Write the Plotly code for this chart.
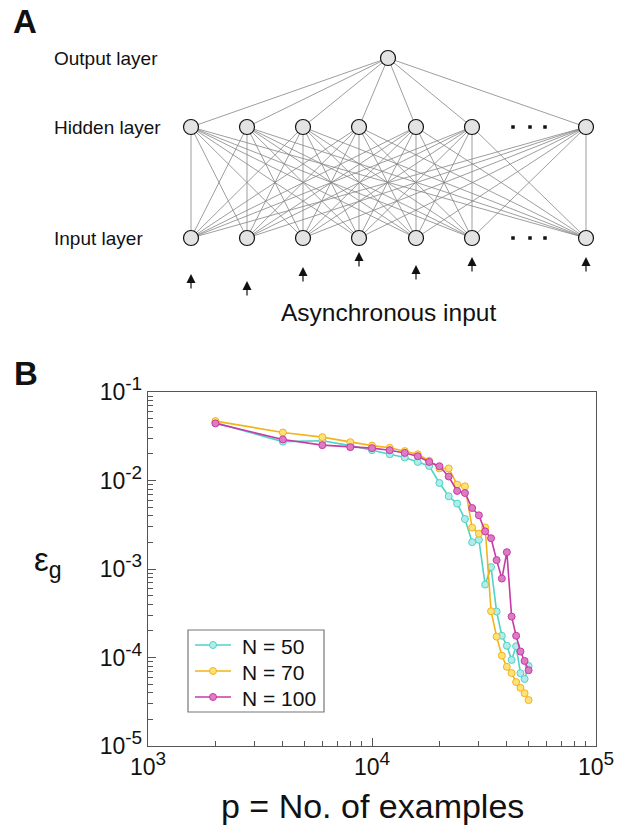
import plotly.graph_objects as go

# ---------------- Panel B data ----------------
p_examples = [2000, 4000, 6000, 8000, 10000, 12000, 14000, 16000, 18000, 20000,
              22000, 24000, 26000, 28000, 30000, 32000, 34000, 36000, 38000, 40000,
              42000, 44000, 46000, 48000, 50000]

eg_n50 = [0.0449, 0.0275, 0.0281, 0.0248, 0.0220, 0.0198, 0.0182, 0.0162, 0.0146, 0.00938,
          0.00663, 0.00548, 0.00367, 0.00201, 0.00214, 0.000667, 0.00105, 0.00033, 0.000176, 0.000136,
          9.38e-5, 0.000134, 6.64e-5, 5.72e-5, 8.02e-5]

eg_n70 = [0.0469, 0.0349, 0.0309, 0.0271, 0.0248, 0.0234, 0.0215, 0.0198, 0.0167, 0.0137,
          0.0137, 0.0090, 0.0086, 0.00293, 0.00251, 0.00295, 0.000333, 0.000172, 0.000105, 7.85e-5,
          6.67e-5, 5.28e-5, 4.54e-5, 3.95e-5, 3.30e-5]

eg_n100 = [0.0442, 0.0291, 0.0251, 0.0238, 0.0232, 0.0220, 0.0205, 0.0188, 0.0162, 0.0145,
           0.0111, 0.00762, 0.00723, 0.00489, 0.00404, 0.00266, 0.00223, 0.00126, 0.00078, 0.00155,
           0.00029, 0.000176, 0.000117, 9.14e-5, 7.18e-5]

series_names = ["N = 50", "N = 70", "N = 100"]

y_exponents = ["-5", "-4", "-3", "-2", "-1"]
y_tick_vals = [1e-5, 1e-4, 1e-3, 1e-2, 1e-1]
x_exponents = ["3", "4", "5"]
x_tick_vals = [1e3, 1e4, 1e5]
y_minor_vals = [m * 10.0 ** e for e in range(-5, -1) for m in range(2, 10)]
x_minor_vals = [m * 10.0 ** e for e in range(3, 5) for m in range(2, 10)]

SUP = "10<sup><span style='font-size:19px'>{}</span></sup>"
y_tick_text = [SUP.format(e) for e in y_exponents]
x_tick_text = [SUP.format(e) for e in x_exponents]

# ---------------- Panel A diagram + legend (page-pixel coordinates) ----------------
layer_names = ["Output layer", "Hidden layer", "Input layer"]
node_x = [191, 247, 303, 359, 416, 472, 586]
output_xy = (388, 58)
hidden_y = 127
input_y = 238
ellipsis_x = [513, 530, 545]
arrow_tip_y = [274, 281, 267, 252, 265, 257, 257]
arrow_len = 16

legend_box = (188, 630, 324, 712)      # x0, y0, x1, y1
legend_rows_y = [645, 671, 697]
legend_line_x = (195, 231)
legend_text_x = 240

FONT = "Liberation Sans, Arial, Helvetica, sans-serif"
W, H = 620, 830

fig = go.Figure()

# connections
lx, ly = [], []
for hx in node_x:
    lx += [output_xy[0], hx, None]
    ly += [output_xy[1], hidden_y, None]
for hx in node_x:
    for ix in node_x:
        lx += [hx, ix, None]
        ly += [hidden_y, input_y, None]
fig.add_trace(go.Scatter(x=lx, y=ly, mode="lines", line=dict(color="#858585", width=0.8),
                         xaxis="x2", yaxis="y2", showlegend=False, hoverinfo="skip"))
# nodes
nx = [output_xy[0]] + node_x + node_x
ny = [output_xy[1]] + [hidden_y] * len(node_x) + [input_y] * len(node_x)
fig.add_trace(go.Scatter(x=nx, y=ny, mode="markers",
                         marker=dict(size=15, color="#e3e3e3", line=dict(color="#111", width=1.2)),
                         xaxis="x2", yaxis="y2", showlegend=False, hoverinfo="skip"))
# ellipsis dots
fig.add_trace(go.Scatter(x=ellipsis_x * 2, y=[hidden_y] * 3 + [input_y] * 3, mode="markers",
                         marker=dict(size=3.5, color="#111", symbol="square"),
                         xaxis="x2", yaxis="y2", showlegend=False, hoverinfo="skip"))

# ---------------- Panel B traces ----------------
styles = [
    ("#4fd3c6", "#b2ecea"),
    ("#f4b318", "#fde17a"),
    ("#c63aa6", "#dd7cc4"),
]
for name, ys, (lc, fc) in zip(series_names, [eg_n50, eg_n70, eg_n100], styles):
    fig.add_trace(go.Scatter(
        x=p_examples, y=ys, name=name, mode="lines+markers",
        line=dict(color=lc, width=1.6),
        marker=dict(size=7, color=fc, line=dict(color=lc, width=1)),
        xaxis="x", yaxis="y", showlegend=False))

annotations = []
# legend samples (drawn in page-pixel axes)
for name, ry, (lc, fc) in zip(series_names, legend_rows_y, styles):
    fig.add_trace(go.Scatter(x=list(legend_line_x), y=[ry, ry], mode="lines",
                             line=dict(color=lc, width=1.6), xaxis="x2", yaxis="y2",
                             showlegend=False, hoverinfo="skip"))
    fig.add_trace(go.Scatter(x=[sum(legend_line_x) / 2], y=[ry], mode="markers",
                             marker=dict(size=7, color=fc, line=dict(color=lc, width=1)),
                             xaxis="x2", yaxis="y2", showlegend=False, hoverinfo="skip"))
    annotations.append(dict(x=legend_text_x, y=ry + 1, xref="x2", yref="y2", text=name,
                            showarrow=False, xanchor="left", yanchor="middle",
                            font=dict(size=21, color="#111")))

for name, y in zip(layer_names, [output_xy[1], hidden_y, input_y]):
    annotations.append(dict(x=52, y=y, xref="x2", yref="y2", text=name, showarrow=False,
                            xanchor="left", yanchor="middle", font=dict(size=19, color="#111")))
annotations.append(dict(x=388, y=312, xref="x2", yref="y2", text="Asynchronous input",
                        showarrow=False, xanchor="center", yanchor="middle",
                        font=dict(size=24.5, color="#111")))
for ax_, ty in zip(node_x, arrow_tip_y):
    annotations.append(dict(x=ax_, y=ty, ax=ax_, ay=ty + arrow_len, xref="x2", yref="y2",
                            axref="x2", ayref="y2", text="", showarrow=True,
                            arrowhead=2, arrowsize=1.5, arrowwidth=1.2, arrowcolor="#111"))


def paper_text(text, px, py, size, bold=False):
    return dict(x=px / W, y=1 - py / H, xref="paper", yref="paper",
                text=f"<b>{text}</b>" if bold else text, showarrow=False,
                xanchor="center", yanchor="middle", font=dict(size=size, color="#111"))


annotations.append(paper_text("A", 25, 21, 33, bold=True))
annotations.append(paper_text("B", 26, 374, 33, bold=True))
annotations.append(paper_text("ε<sub>g</sub>", 48, 562, 33))
annotations.append(paper_text("p = No. of examples", 372, 806, 34))

shapes = [dict(type="rect", xref="x2", yref="y2",
               x0=legend_box[0], y0=legend_box[1], x1=legend_box[2], y1=legend_box[3],
               line=dict(color="#777", width=1.2), fillcolor="rgba(0,0,0,0)", layer="above")]

axis_common = dict(showgrid=False, zeroline=False, showline=True, linecolor="#555", linewidth=1.2,
                   mirror=True, ticks="inside", ticklen=8, tickwidth=1, tickcolor="#555",
                   tickfont=dict(size=23, color="#111"), automargin=False)

fig.update_layout(
    width=W, height=H,
    margin=dict(l=0, r=0, t=0, b=0, pad=0, autoexpand=False),
    paper_bgcolor="white", plot_bgcolor="rgba(0,0,0,0)",
    font=dict(family=FONT, color="#111"),
    xaxis=dict(type="log", range=[3, 5], domain=[148 / W, 596 / W], anchor="y",
               tickmode="array", tickvals=x_tick_vals, ticktext=x_tick_text,
               minor=dict(ticks="inside", ticklen=5, tickcolor="#555", tickmode="array",
                          tickvals=x_minor_vals),
               **axis_common),
    yaxis=dict(type="log", range=[-5, -1], domain=[1 - 746 / H, 1 - 392 / H], anchor="x",
               tickmode="array", tickvals=y_tick_vals, ticktext=y_tick_text,
               minor=dict(ticks="inside", ticklen=5, tickcolor="#555", tickmode="array",
                          tickvals=y_minor_vals),
               **axis_common),
    xaxis2=dict(domain=[0, 1], range=[0, W], anchor="y2", visible=False, fixedrange=True),
    yaxis2=dict(domain=[0, 1], range=[H, 0], anchor="x2", visible=False, fixedrange=True),
    annotations=annotations,
    shapes=shapes,
    showlegend=False,
)

fig.write_html("out.html", config={"displayModeBar": False, "staticPlot": True},
               post_script="document.body.style.margin='0px';document.body.style.overflow='hidden';")
